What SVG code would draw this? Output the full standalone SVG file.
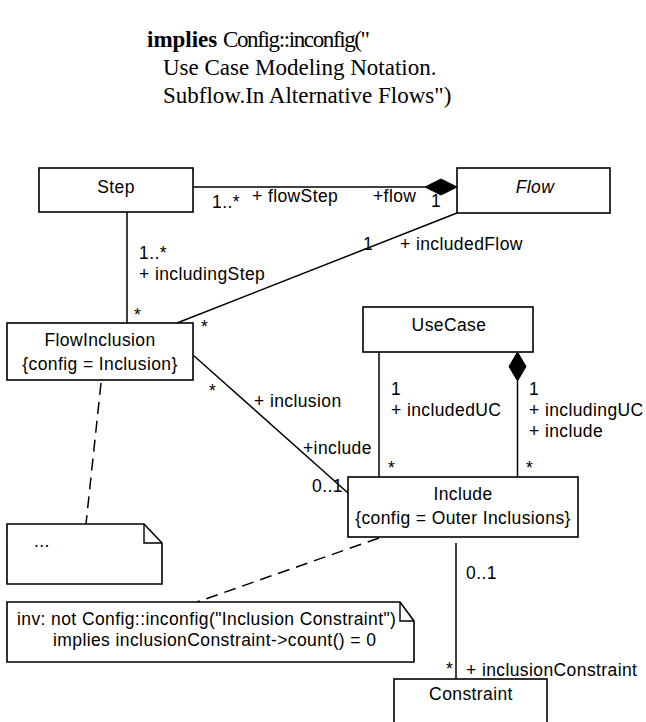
<svg xmlns="http://www.w3.org/2000/svg" width="646" height="722" viewBox="0 0 646 722">
  <style>
    .cls { fill: #fff; stroke: #000; stroke-width: 1.6; }
    .note { fill: #fff; stroke: #000; stroke-width: 1.6; }
    .fold { fill: none; stroke: #000; stroke-width: 1.4; }
    .lbl { font-family: "Liberation Sans", Arial, sans-serif; font-size: 17.5px; letter-spacing: 0.4px; fill: #000; }
    .mid { text-anchor: middle; }
    .it { font-style: italic; }
    .assoc { stroke: #000; stroke-width: 1.5; fill: none; }
    .dash { stroke: #000; stroke-width: 1.5; fill: none; stroke-dasharray: 12 7; }
    .head { font-family: "Liberation Serif", "Times New Roman", serif; font-size: 23px; fill: #000; }
  </style>

  <!-- OCL header fragment -->
  <g id="header">
    <text class="head" x="147" y="47" font-weight="bold">implies</text>
    <text class="head" x="223" y="47" textLength="147">Config::inconfig("</text>
    <text class="head" x="163" y="75">Use Case Modeling Notation.</text>
    <text class="head" x="163" y="103">Subflow.In Alternative Flows")</text>
  </g>

  <!-- associations and note links -->
  <g id="connectors">
    <!-- Step - Flow (composition) -->
    <line class="assoc" x1="193" y1="187" x2="425" y2="187"/>
    <polygon points="425,187 441,179 457,187 441,195" fill="#000" stroke="#000" stroke-width="1"/>
    <text class="lbl" x="212" y="208">1..*</text>
    <text class="lbl" x="252" y="202">+ flowStep</text>
    <text class="lbl" x="373" y="202">+flow</text>
    <text class="lbl" x="431" y="207">1</text>

    <!-- Step - FlowInclusion -->
    <line class="assoc" x1="127" y1="212" x2="127" y2="323"/>
    <text class="lbl" x="139" y="259">1..*</text>
    <text class="lbl" x="139" y="280">+ includingStep</text>
    <text class="lbl" x="134" y="321">*</text>

    <!-- Flow - FlowInclusion -->
    <line class="assoc" x1="457" y1="213" x2="177" y2="323"/>
    <text class="lbl" x="363" y="250">1</text>
    <text class="lbl" x="400" y="250">+ includedFlow</text>
    <text class="lbl" x="201" y="333">*</text>

    <!-- FlowInclusion - Include -->
    <line class="assoc" x1="193" y1="355" x2="348" y2="493"/>
    <text class="lbl" x="209" y="397">*</text>
    <text class="lbl" x="254" y="407">+ inclusion</text>
    <text class="lbl" x="303" y="454">+include</text>
    <text class="lbl" x="312" y="492">0..1</text>

    <!-- UseCase - Include (includedUC) -->
    <line class="assoc" x1="379" y1="352" x2="379" y2="477"/>
    <text class="lbl" x="391" y="395">1</text>
    <text class="lbl" x="391" y="416">+  includedUC</text>
    <text class="lbl" x="388" y="474">*</text>

    <!-- UseCase - Include (composition, includingUC) -->
    <line class="assoc" x1="517.5" y1="381" x2="517.5" y2="477"/>
    <polygon points="517.5,352 526,366.5 517.5,381 509,366.5" fill="#000" stroke="#000" stroke-width="1"/>
    <text class="lbl" x="529" y="395">1</text>
    <text class="lbl" x="529" y="416">+ includingUC</text>
    <text class="lbl" x="529" y="437">+ include</text>
    <text class="lbl" x="526" y="474">*</text>

    <!-- Include - Constraint -->
    <line class="assoc" x1="456" y1="543" x2="456" y2="679"/>
    <text class="lbl" x="466" y="579">0..1</text>
    <text class="lbl" x="446" y="675">*</text>
    <text class="lbl" x="466" y="676">+ inclusionConstraint</text>

    <!-- note anchors -->
    <line class="dash" x1="101" y1="383" x2="86" y2="524"/>
    <line class="dash" x1="379" y1="538" x2="197" y2="602"/>
  </g>

  <g id="Step">
    <rect class="cls" x="39" y="168" width="154" height="44"/>
    <text class="lbl mid" x="116" y="193">Step</text>
  </g>

  <g id="Flow">
    <rect class="cls" x="457" y="168" width="153" height="45"/>
    <text class="lbl mid it" x="535" y="193">Flow</text>
  </g>

  <g id="FlowInclusion">
    <rect class="cls" x="7" y="323" width="186" height="57"/>
    <text class="lbl mid" x="100" y="346">FlowInclusion</text>
    <text class="lbl mid" x="100" y="370">{config = Inclusion}</text>
  </g>

  <g id="UseCase">
    <rect class="cls" x="363" y="307" width="170" height="45"/>
    <text class="lbl mid" x="449" y="331">UseCase</text>
  </g>

  <g id="Include">
    <rect class="cls" x="348" y="477" width="230" height="60"/>
    <text class="lbl mid" x="463" y="500">Include</text>
    <text class="lbl mid" x="463" y="524">{config = Outer Inclusions}</text>
  </g>

  <g id="Constraint">
    <rect class="cls" x="394" y="679" width="153" height="50"/>
    <text class="lbl mid" x="471" y="700">Constraint</text>
  </g>

  <g id="note-ellipsis">
    <path class="note" d="M7,524 H144 L162,543 V584 H7 Z"/>
    <path class="fold" d="M144,524 V543 H162"/>
    <text class="lbl" x="34" y="547" font-size="13">...</text>
  </g>

  <g id="note-constraint">
    <path class="note" d="M7,602 H400 L414,621 V662 H7 Z"/>
    <path class="fold" d="M400,602 V621 H414"/>
    <text class="lbl" x="17" y="625">inv: not Config::inconfig("Inclusion Constraint")</text>
    <text class="lbl" x="53" y="646">implies inclusionConstraint-&gt;count() = 0</text>
  </g>
</svg>
